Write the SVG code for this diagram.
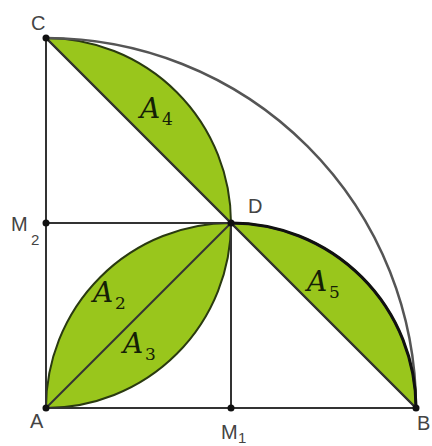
<svg xmlns="http://www.w3.org/2000/svg" width="432" height="446" viewBox="0 0 432 446">
<style>
.fill{fill:#99c61c;stroke:#2a3a10;stroke-width:2;stroke-linejoin:round}
.ln{stroke:#333;stroke-width:2;fill:none}
.pt{fill:#111}
.lbl{font-family:"Liberation Sans",Arial,sans-serif;font-size:20px;fill:#444}
.sub{font-family:"Liberation Sans",Arial,sans-serif;font-size:15px;fill:#444}
.ai{font-family:"DejaVu Serif","Liberation Serif",serif;font-style:italic;font-size:28px;fill:#142006}
.an{font-family:"DejaVu Serif","Liberation Serif",serif;font-size:17px;fill:#142006}
</style>
<rect width="432" height="446" fill="#fff"/>
<g id="regions">
<path class="fill" d="M46,38 A185,185 0 0 1 231,223 Z"/>
<path class="fill" d="M231,223 A185,185 0 0 1 416,408 Z"/>
<path class="fill" d="M46,408 A185,185 0 0 1 231,223 A185,185 0 0 1 46,408 Z"/>
</g>
<g id="connectors">
<path d="M46,38 A370,370 0 0 1 416,408" stroke="#555" stroke-width="2.5" fill="none"/>
<path d="M231,223 A185,185 0 0 1 416,408" stroke="#111" stroke-width="3" fill="none"/>
<line class="ln" x1="46" y1="38" x2="46" y2="408"/>
<line class="ln" x1="46" y1="408" x2="416" y2="408"/>
<line class="ln" x1="46" y1="223" x2="231" y2="223"/>
<line class="ln" x1="231" y1="223" x2="231" y2="408"/>
<line class="ln" x1="46" y1="408" x2="231" y2="223"/>
<line class="ln" x1="46" y1="38" x2="231" y2="223"/>
<line class="ln" x1="231" y1="223" x2="416" y2="408"/>
</g>
<g id="A"><circle class="pt" cx="46" cy="408" r="3.5"/><text class="lbl" x="30" y="428">A</text></g>
<g id="B"><circle class="pt" cx="416" cy="408" r="3.5"/><text class="lbl" x="417" y="430">B</text></g>
<g id="C"><circle class="pt" cx="46" cy="38" r="3.5"/><text class="lbl" x="31" y="30">C</text></g>
<g id="D"><circle class="pt" cx="231" cy="223" r="3.5"/><text class="lbl" x="248" y="213">D</text></g>
<g id="M1"><circle class="pt" cx="231" cy="408" r="3.5"/><text class="lbl" x="221" y="439">M</text><text class="sub" x="238" y="443">1</text></g>
<g id="M2"><circle class="pt" cx="46" cy="223" r="3.5"/><text class="lbl" x="11" y="231">M</text><text class="sub" x="31" y="245">2</text></g>
<g id="labels">
<text class="ai" x="140" y="118">A</text><text class="an" x="162" y="125">4</text>
<text class="ai" x="93" y="302">A</text><text class="an" x="115" y="309">2</text>
<text class="ai" x="123" y="353">A</text><text class="an" x="145" y="360">3</text>
<text class="ai" x="307" y="291">A</text><text class="an" x="329" y="298">5</text>
</g>
</svg>
